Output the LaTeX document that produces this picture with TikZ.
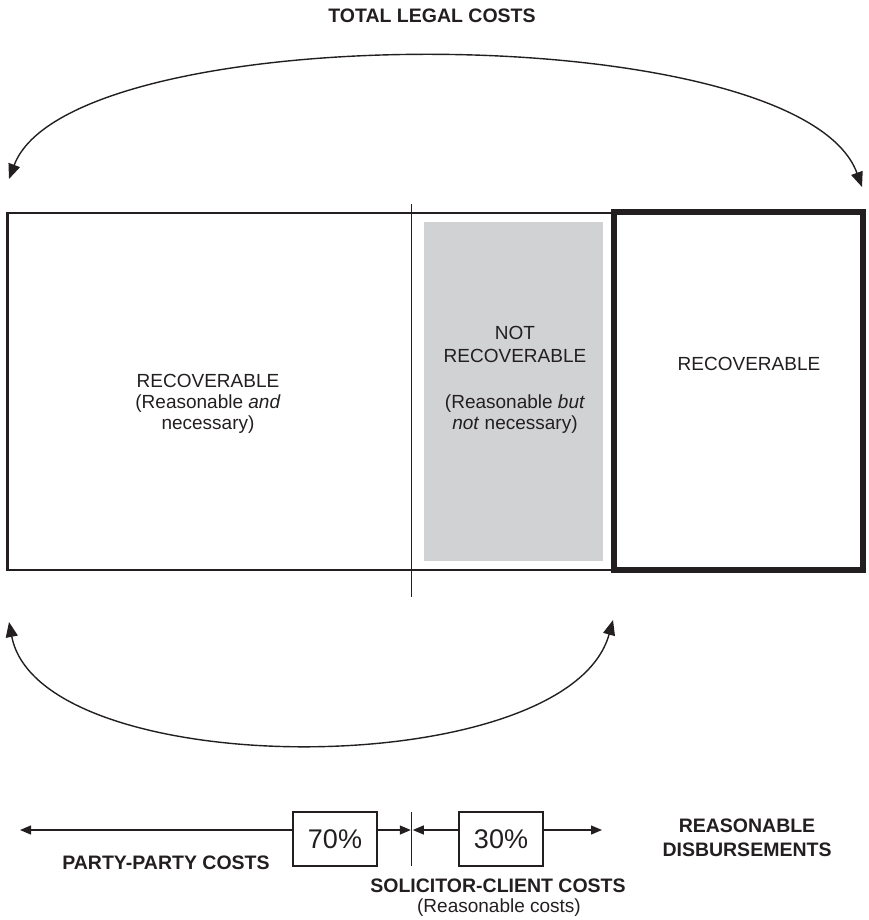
\documentclass[tikz,border=0pt]{standalone}
\usepackage{fontspec}
\setmainfont{Liberation Sans}
\usetikzlibrary{arrows.meta}
\definecolor{ink}{HTML}{231F20}
\definecolor{greyfill}{HTML}{D1D2D4}
\begin{document}
\begin{tikzpicture}[x=1pt,y=-1pt,
  lbl/.style={font=\fontsize{19}{21}\selectfont, text=ink, anchor=base, inner sep=0pt},
  boldlbl/.style={font=\fontsize{19.5}{22}\selectfont\bfseries, text=ink, anchor=base, inner sep=0pt},
  pct/.style={draw=ink, line width=1.3pt, minimum width=84pt, minimum height=54pt, font=\fontsize{27}{30}\selectfont, text=ink, inner sep=0pt},
  bigarrow/.style={ink, line width=1.4pt, {Triangle[length=15pt,width=12pt]}-{Triangle[length=15pt,width=12pt]}},
  smallarrow/.style={ink, line width=1.3pt, -{Triangle[length=11pt,width=9pt]}}]
\useasboundingbox (0,0) rectangle (869,920);

% title and top arc
\node[boldlbl] (title) at (432,23) {TOTAL LEGAL COSTS};
\coordinate (tl) at (9,179);
\coordinate (tr) at (862,187);
\draw[bigarrow] (tl) .. controls (70,16) and (800,16) .. (tr);

% main box
\fill[greyfill] (424,222) rectangle (603,561);
\draw[ink, line width=2.5pt] (7.5,213) rectangle (614,570);
\draw[ink, line width=5.5pt] (614,212) rectangle (863,570);
\coordinate (divtop) at (411.7,204);
\coordinate (divbot) at (411.7,597);
\draw[ink, line width=1.3pt] (divtop) -- (divbot);

% box texts
\node[lbl] (l1) at (208,387) {RECOVERABLE};
\node[lbl] (l2) at (208,408) {(Reasonable \textit{and}};
\node[lbl] (l3) at (208,429) {necessary)};
\node[lbl] (g1) at (515,339) {NOT};
\node[lbl] (g2) at (515,362) {RECOVERABLE};
\node[lbl] (g3) at (515,408) {(Reasonable \textit{but}};
\node[lbl] (g4) at (515,429) {\textit{not} necessary)};
\node[lbl] (r1) at (749,370) {RECOVERABLE};

% bottom arc
\coordinate (bl) at (9,622);
\coordinate (br) at (613,620);
\draw[bigarrow] (bl) .. controls (40,784) and (568,784) .. (br);

% bottom row
\node[pct] (p70) at (335,839) {70\%};
\node[pct] (p30) at (501,839) {30\%};
\coordinate (leftend) at (20,830);
\coordinate (tickL) at (410.8,830);
\coordinate (tickR) at (412.8,830);
\coordinate (rightend) at (602,830);
\coordinate (ticktop) at (411.8,812);
\coordinate (tickbot) at (411.8,866);
\draw[smallarrow] (p70.west |- leftend) -- (leftend);
\draw[smallarrow] (p70.east |- tickL) -- (tickL);
\draw[smallarrow] (p30.west |- tickR) -- (tickR);
\draw[smallarrow] (p30.east |- rightend) -- (rightend);
\draw[ink, line width=1.3pt] (ticktop) -- (tickbot);

\node[boldlbl] (pp) at (166,869) {PARTY-PARTY COSTS};
\node[boldlbl] (sc) at (498,892) {SOLICITOR-CLIENT COSTS};
\node[lbl] (rc) at (499,912) {(Reasonable costs)};
\node[boldlbl] (rd1) at (747,832) {REASONABLE};
\node[boldlbl] (rd2) at (747,856) {DISBURSEMENTS};
\end{tikzpicture}
\end{document}
